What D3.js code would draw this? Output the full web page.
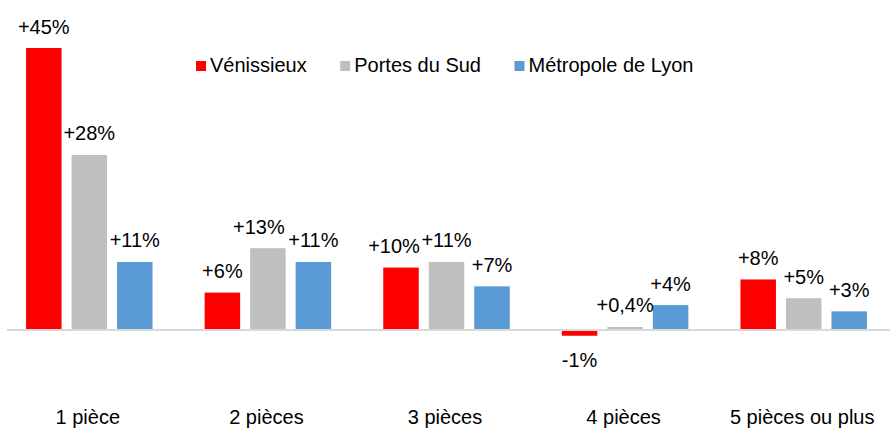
<!DOCTYPE html>
<html>
<head>
<meta charset="utf-8">
<script src="https://cdn.jsdelivr.net/npm/d3@7"></script>
<style>
  html, body { margin: 0; padding: 0; background: #fff; }
  svg { display: block; font-family: "Liberation Sans", Arial, sans-serif; }
</style>
</head>
<body>
<svg id="chart" width="890" height="429"></svg>
<script>
const categories = ["1 pièce", "2 pièces", "3 pièces", "4 pièces", "5 pièces ou plus"];
const seriesNames = ["Vénissieux", "Portes du Sud", "Métropole de Lyon"];
const venissieux = [45, 5.9, 9.9, -1.0, 8.0];
const portesDuSud = [27.9, 13, 10.8, 0.4, 5.0];
const metropole = [10.8, 10.8, 6.9, 3.9, 2.9];
const venissieuxLabels = ["+45%", "+6%", "+10%", "-1%", "+8%"];
const portesDuSudLabels = ["+28%", "+13%", "+11%", "+0,4%", "+5%"];
const metropoleLabels = ["+11%", "+11%", "+7%", "+4%", "+3%"];
const colors = ["#ff0000", "#bfbfbf", "#5b9bd5"];

const values = [venissieux, portesDuSud, metropole];
const labels = [venissieuxLabels, portesDuSudLabels, metropoleLabels];

const svg = d3.select("#chart");
const W = 890, H = 429;

const x0 = d3.scaleBand().domain(categories).range([0, 893]);
const x1 = d3.scaleBand().domain(seriesNames).range([0, 126.5]).paddingInner(10 / 45.5);
const y = d3.scaleLinear().domain([0, 45]).range([329.5, 48]);

// label nudges (manual label placement in original)
const nudge = { "2 pièces|Portes du Sud": -9, "3 pièces|Vénissieux": -7 };

const data = [];
categories.forEach((c, i) => {
  seriesNames.forEach((s, j) => {
    data.push({ cat: c, series: s, v: values[j][i], label: labels[j][i], color: colors[j] });
  });
});

const bx = d => x0(d.cat) + x0.bandwidth() / 2 - 63.25 + x1(d.series);

svg.append("g").selectAll("rect").data(data).join("rect")
  .attr("x", d => bx(d))
  .attr("width", x1.bandwidth())
  .attr("y", d => y(Math.max(0, d.v)))
  .attr("height", d => Math.abs(y(d.v) - y(0)))
  .attr("fill", d => d.color);

// zero axis line
svg.append("line")
  .attr("x1", 7).attr("x2", W)
  .attr("y1", y(0) + 0.5).attr("y2", y(0) + 0.5)
  .attr("stroke", "#d9d9d9").attr("stroke-width", 2);

// data labels
svg.append("g").selectAll("text").data(data).join("text")
  .attr("x", d => bx(d) + x1.bandwidth() / 2 + (nudge[d.cat + "|" + d.series] || 0))
  .attr("y", d => d.v >= 0 ? y(d.v) - 14.5 : y(d.v) + 31)
  .attr("text-anchor", "middle")
  .attr("font-size", 20)
  .attr("fill", "#000")
  .text(d => d.label);

// category labels
svg.append("g").selectAll("text").data(categories).join("text")
  .attr("x", d => x0(d) + x0.bandwidth() / 2 - 1.5)
  .attr("y", 424)
  .attr("text-anchor", "middle")
  .attr("font-size", 20)
  .attr("fill", "#000")
  .text(d => d);

// legend
const legend = svg.append("g");
let lx = 196;
seriesNames.forEach((s, j) => {
  legend.append("rect").attr("x", lx).attr("y", 61).attr("width", 10).attr("height", 10).attr("fill", colors[j]);
  const t = legend.append("text").attr("x", lx + 14).attr("y", 72).attr("font-size", 20).attr("fill", "#000").text(s);
  lx += 14 + t.node().getComputedTextLength() + 33.5;
});
</script>
</body>
</html>
